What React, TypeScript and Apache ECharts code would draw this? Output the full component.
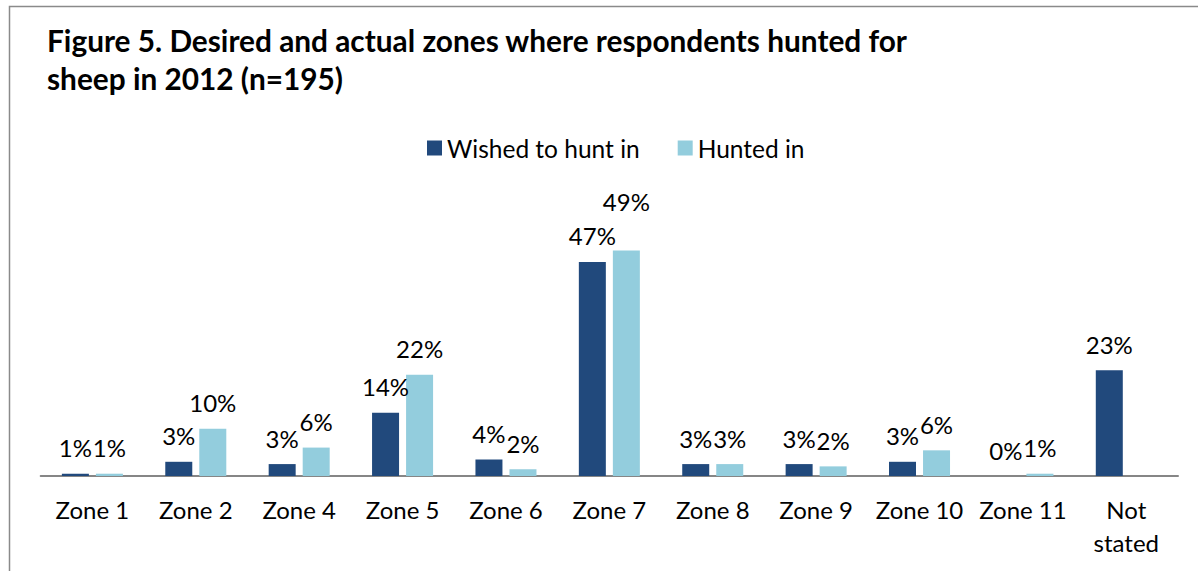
import React, { useEffect, useRef } from "react";
import * as echarts from "echarts";

const categories = ["Zone 1", "Zone 2", "Zone 4", "Zone 5", "Zone 6", "Zone 7", "Zone 8", "Zone 9", "Zone 10", "Zone 11", "Not\nstated"];
const wishedToHuntIn = [0.5, 3.1, 2.6, 13.8, 3.6, 46.7, 2.6, 2.6, 3.1, 0, 23.1];
const huntedIn: (number | string)[] = [0.5, 10.3, 6.2, 22.1, 1.5, 49.2, 2.6, 2.1, 5.6, 0.5, "-"];
const seriesNames = ["Wished to hunt in", "Hunted in"];
const titleText = "Figure 5. Desired and actual zones where respondents hunted for\nsheep in 2012 (n=195)";

const FONT = "Lato, 'Noto Sans', sans-serif";

export default function App() {
  const ref = useRef<HTMLDivElement>(null);
  useEffect(() => {
    if (!ref.current) return;
    const chart = echarts.init(ref.current, null, { renderer: "svg" });
    const labelCfg = {
      show: true,
      position: "top",
      distance: 14,
      fontSize: 24,
      fontFamily: FONT,
      color: "#000",
      formatter: (p: any) => Math.round(p.value) + "%",
    };
    chart.setOption({
      animation: false,
      backgroundColor: "#fff",
      textStyle: { fontFamily: FONT },
      title: {
        text: titleText,
        left: 47,
        top: 21,
        padding: 0,
        textStyle: { fontFamily: FONT, fontSize: 29.8, fontWeight: "bold", color: "#000", lineHeight: 38 },
      },
      graphic: [
        {
          type: "rect",
          shape: { x: 9.5, y: 6.5, width: 1400, height: 800 },
          style: { fill: "none", stroke: "#8a8a8a", lineWidth: 1.5 },
          silent: true,
        },
      ],
      legend: {
        left: 427,
        top: 135.5,
        padding: 0,
        itemWidth: 15,
        itemHeight: 15,
        itemGap: 38,
        icon: "rect",
        textStyle: { fontSize: 24.5, fontFamily: FONT, color: "#000", padding: [0, 0, 0, 0] },
        data: seriesNames,
      },
      grid: { left: 40.7, right: 20, top: 201, bottom: 95, containLabel: false },
      xAxis: {
        type: "category",
        data: categories,
        axisLine: { lineStyle: { color: "#868686", width: 2 } },
        axisTick: { show: false },
        axisLabel: { fontSize: 24, fontFamily: FONT, color: "#000", margin: 17, lineHeight: 33, interval: 0 },
      },
      yAxis: { type: "value", min: 0, max: 60, show: false, splitLine: { show: false } },
      series: [
        {
          name: seriesNames[0],
          type: "bar",
          data: wishedToHuntIn,
          barWidth: 27,
          barGap: "26%",
          itemStyle: { color: "#21497c" },
          label: labelCfg,
        },
        {
          name: seriesNames[1],
          type: "bar",
          data: huntedIn,
          barWidth: 27,
          barGap: "26%",
          itemStyle: { color: "#93cddd" },
          label: labelCfg,
          labelLayout: (p: any) => (p.dataIndex === 5 ? { dy: -23 } : {}),
        },
      ],
    });
    return () => chart.dispose();
  }, []);
  return <div ref={ref} style={{ position: "fixed", left: 0, top: 0, width: 1198, height: 571 }} />;
}
